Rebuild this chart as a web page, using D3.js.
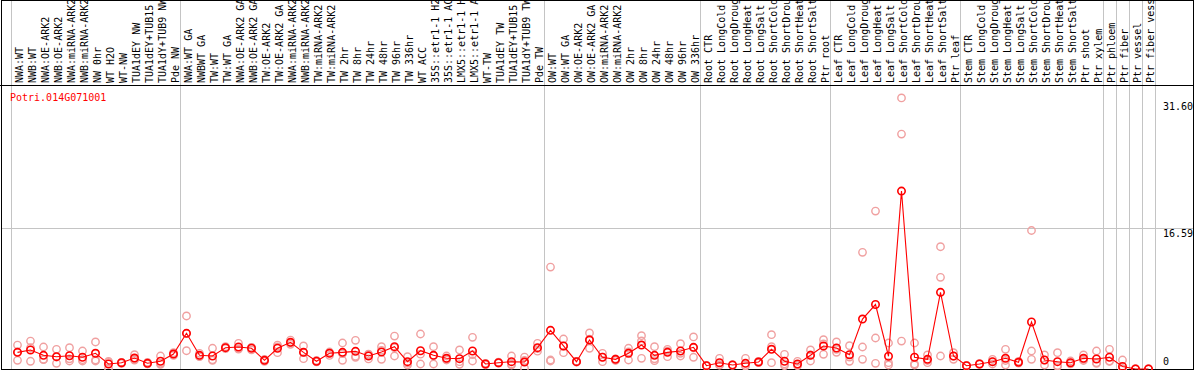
<!DOCTYPE html>
<html>
<head>
<meta charset="utf-8">
<script src="https://cdn.jsdelivr.net/npm/d3@7.9.0/dist/d3.min.js"></script>
<style>
  body { margin: 0; background: #fff; }
  svg { display: block; }
  text { font-family: "DejaVu Sans Mono", monospace; font-size: 10px; }
</style>
</head>
<body>
<svg id="chart" width="1194" height="370"></svg>
<script>
const geneName = 'Potri.014G071001';

const labels = [
  // NW group
  'NWA:WT', 'NWB:WT', 'NWA:OE-ARK2', 'NWB:OE-ARK2', 'NWA:miRNA-ARK2', 'NWB:miRNA-ARK2',
  'NW 0hr', 'WT H2O', 'WT-NW', 'TUA1dEY NW', 'TUA1dEY+TUB15 NW', 'TUA1dY+TUB9 NW', 'Pde NW',
  // TW group
  'NWA:WT GA', 'NWBWT GA', 'TW:WT', 'TW:WT GA', 'NWA:OE-ARK2 GA', 'NWB:OE-ARK2 GA',
  'TW:OE-ARK2', 'TW:OE-ARK2 GA', 'NWA:miRNA-ARK2 GA', 'NWB:miRNA-ARK2 GA', 'TW:miRNA-ARK2',
  'TW:miRNA-ARK2 GA', 'TW 2hr', 'TW 8hr', 'TW 24hr', 'TW 48hr', 'TW 96hr', 'TW 336hr',
  'WT ACC', '35S::etr1-1 H2O', '35S::etr1-1 ACC', 'LMX5::etr1-1 H2O', 'LMX5::etr1-1 ACC',
  'WT-TW', 'TUA1dEY TW', 'TUA1dEY+TUB15 TW', 'TUA1dY+TUB9 TW', 'Pde TW',
  // OW group
  'OW:WT', 'OW:WT GA', 'OW:OE-ARK2', 'OW:OE-ARK2 GA', 'OW:miRNA-ARK2', 'OW:miRNA-ARK2 GA',
  'OW 2hr', 'OW 8hr', 'OW 24hr', 'OW 48hr', 'OW 96hr', 'OW 336hr',
  // root
  'Root CTR', 'Root LongCold', 'Root LongDrought', 'Root LongHeat', 'Root LongSalt',
  'Root ShortCold', 'Root ShortDrought', 'Root ShortHeat', 'Root ShortSalt', 'Ptr root',
  // leaf
  'Leaf CTR', 'Leaf LongCold', 'Leaf LongDrought', 'Leaf LongHeat', 'Leaf LongSalt',
  'Leaf ShortCold', 'Leaf ShortDrought', 'Leaf ShortHeat', 'Leaf ShortSalt', 'Ptr leaf',
  // stem
  'Stem CTR', 'Stem LongCold', 'Stem LongDrought', 'Stem LongHeat', 'Stem LongSalt',
  'Stem ShortCold', 'Stem ShortDrought', 'Stem ShortHeat', 'Stem ShortSalt', 'Ptr shoot', 'Ptr xylem',
  'Ptr phloem', 'Ptr fiber', 'Ptr vessel', 'Ptr fiber vessel'
];

const groupSizes = [13, 28, 12, 10, 10, 11, 1, 1, 1, 1];

const means = [
  1.96, 2.24, 1.61, 1.45, 1.56, 1.38, 1.85, 0.59, 0.74, 1.29, 0.67, 0.91, 1.76,
  4.2, 1.61, 1.53, 2.51, 2.59, 2.44, 1.02, 2.44, 3.14, 1.96, 0.91, 1.85, 1.96, 2.08,
  1.53, 2.0, 2.63, 0.86, 2.15, 1.61, 1.26, 1.22, 2.12, 0.59, 0.74, 0.86, 0.82, 2.51,
  4.55, 2.71, 0.86, 3.41, 1.38, 1.14, 1.85, 2.82, 1.61, 1.96, 2.12, 2.55,
  0.39, 0.74, 0.47, 0.67, 0.82, 2.32, 0.91, 0.59, 1.61, 2.71,
  2.47, 1.68, 5.88, 7.59, 1.5, 20.94, 1.38, 1.14, 9.02, 1.53,
  0.39, 0.59, 0.86, 1.26, 0.79, 5.53, 1.06, 0.86, 0.74, 1.26, 1.18,
  1.38, 0.3, 0.0, 0.0
];

const reps = [
  [2.82, 1.02, 2.0], [3.29, 0.91, 2.5], [2.59, 1.14, 1.1], [2.32, 0.67, 1.4], [2.51, 0.94, 1.2],
  [2.12, 0.94, 1.1], [3.18, 1.06, 0.94], [0.79, 0.08, 0.9], [0.79, 0.65, 0.75], [1.68, 1.14, 1.05],
  [0.79, 0.6, 0.62], [1.53, 0.67, 0.55], [1.92, 1.6, 1.76],
  [6.24, 2.15, 4.2], [1.85, 1.45, 1.5], [2.44, 1.02, 1.1], [2.63, 2.4, 2.5], [3.02, 2.4, 2.35],
  [2.51, 2.24, 2.55], [1.14, 0.9, 1.0], [2.82, 1.92, 2.6], [3.4, 2.9, 3.1], [2.71, 1.22, 1.95],
  [0.9, 0.85, 1.0], [2.0, 1.6, 1.9], [3.06, 1.02, 1.8], [3.38, 1.38, 1.5], [1.65, 1.18, 1.75],
  [2.63, 1.14, 2.2], [3.88, 1.53, 2.5], [1.45, 0.47, 0.7], [4.12, 0.59, 1.75], [2.63, 0.59, 1.6],
  [1.53, 1.06, 1.2], [2.24, 0.86, 0.55], [3.73, 0.94, 1.7], [0.67, 0.5, 0.6], [0.8, 0.7, 0.72],
  [1.53, 0.47, 0.6], [1.4, 1.0, 0.1], [3.02, 2.4, 2.1],
  [12.0, 1.06, 0.94], [3.53, 1.92, 2.7], [0.9, 0.8, 0.9], [4.24, 2.44, 3.5], [1.85, 0.86, 1.4],
  [1.14, 1.0, 1.2], [2.44, 1.06, 2.0], [3.92, 1.26, 3.3], [2.63, 0.98, 1.2], [2.32, 1.45, 2.1],
  [2.98, 1.53, 1.85], [3.77, 1.38, 2.5],
  [0.4, 0.35, 0.4], [1.26, 0.5, 0.45], [0.5, 0.45, 0.45], [1.26, 0.4, 0.35], [0.9, 0.8, 0.75],
  [4.04, 2.63, 0.74], [1.73, 0.6, 0.4], [0.9, 0.45, 0.4], [2.24, 0.94, 1.65], [3.45, 1.73, 2.95],
  [3.18, 1.96, 2.3], [2.75, 0.91, 1.4], [13.73, 2.59, 1.14], [18.59, 3.65, 0.67], [3.06, 0.74, 0.47],
  [31.9, 27.65, 3.29], [3.06, 0.47, 0.6], [1.65, 0.74, 1.0], [14.39, 10.79, 1.53], [1.92, 1.14, 1.5],
  [0.4, 0.35, 0.42], [0.6, 0.55, 0.62], [1.14, 0.59, 0.85], [2.32, 0.47, 1.0], [0.9, 0.7, 0.8],
  [16.3, 2.12, 1.14], [1.65, 0.47, 1.05], [1.92, 0.4, 0.3], [0.94, 0.6, 0.7], [1.65, 1.14, 1.0],
  [2.12, 0.67, 0.75],
  [2.32, 0.94, 0.9], [1.06, 0.0, 0.0], [0, 0, 0], [0, 0, 0]
];

const tickValues = [0, 16.59, 31.60];
const gridValues = [16.59];

const svg = d3.select('#chart');

const x = d3.scaleBand().domain(d3.range(labels.length)).range([11, 1155]);
const y = d3.scaleLinear().domain([0, 31.6]).range([369, 100.5]);
const cx = i => x(i) + x.bandwidth() / 2;
const edge = i => x.range()[0] + i * x.step();

// column group separators
let bounds = [0];
groupSizes.forEach(s => bounds.push(bounds[bounds.length - 1] + s));

svg.selectAll('line.sep')
  .data(bounds)
  .join('line')
  .attr('class', 'sep')
  .attr('x1', d => Math.round(edge(d)) + 0.5)
  .attr('x2', d => Math.round(edge(d)) + 0.5)
  .attr('y1', 0)
  .attr('y2', 369)
  .attr('stroke', '#c4c4c4');

svg.selectAll('line.grid')
  .data(gridValues)
  .join('line')
  .attr('class', 'grid')
  .attr('x1', 1)
  .attr('x2', 1193)
  .attr('y1', d => Math.round(y(d)) + 0.5)
  .attr('y2', d => Math.round(y(d)) + 0.5)
  .attr('stroke', '#c4c4c4');

// column labels, rotated (long ones run off the top, as in the original)
svg.selectAll('text.lab')
  .data(labels)
  .join('text')
  .attr('class', 'lab')
  .attr('transform', (d, i) => `translate(${cx(i) + 5},83) rotate(-90)`)
  .attr('fill', '#000')
  .text(d => d);

// header separator + frame
svg.append('line')
  .attr('x1', 0).attr('x2', 1194)
  .attr('y1', 85.5).attr('y2', 85.5)
  .attr('stroke', '#000');

svg.append('rect')
  .attr('x', 1.5).attr('y', 0.5)
  .attr('width', 1192).attr('height', 369)
  .attr('fill', 'none')
  .attr('stroke', '#000');

svg.append('text')
  .attr('x', 10).attr('y', 101)
  .attr('fill', '#ff0000')
  .text(geneName);

// right-hand scale labels
svg.selectAll('text.tick')
  .data(tickValues)
  .join('text')
  .attr('class', 'tick')
  .attr('x', 1163)
  .attr('y', d => d === 0 ? y(d) - 4 : y(d) + 9)
  .attr('fill', '#000')
  .text(d => d === 0 ? '0' : d.toFixed(2));

// replicate points
const repPts = reps.flatMap((r, i) => r.map(v => ({ i, v })));
svg.selectAll('circle.rep')
  .data(repPts)
  .join('circle')
  .attr('class', 'rep')
  .attr('cx', d => cx(d.i))
  .attr('cy', d => y(d.v))
  .attr('r', 3.7)
  .attr('fill', 'none')
  .attr('stroke', '#f0a0a0')
  .attr('stroke-width', 1.4);

// mean line
const line = d3.line().x((d, i) => cx(i)).y(d => y(d));
svg.append('path')
  .attr('d', line(means))
  .attr('fill', 'none')
  .attr('stroke', '#ff0000')
  .attr('stroke-width', 1.1);

svg.selectAll('circle.mean')
  .data(means)
  .join('circle')
  .attr('class', 'mean')
  .attr('cx', (d, i) => cx(i))
  .attr('cy', d => y(d))
  .attr('r', 3.7)
  .attr('fill', 'none')
  .attr('stroke', '#ff0000')
  .attr('stroke-width', 1.6);
</script>
</body>
</html>
